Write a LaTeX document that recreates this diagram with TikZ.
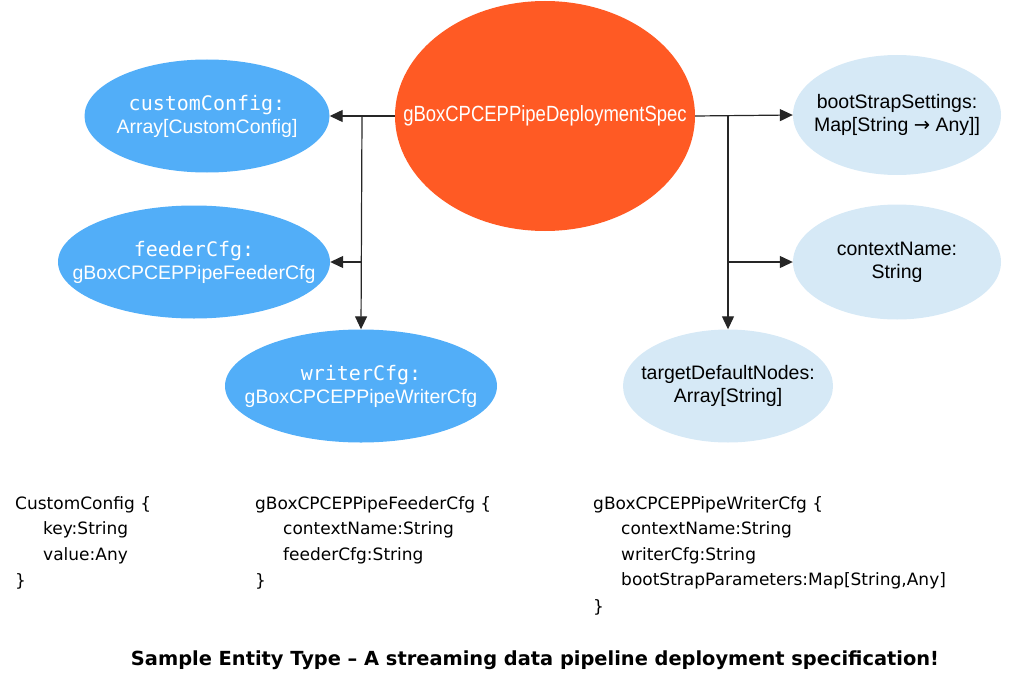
\documentclass[tikz,border=0pt]{standalone}
\usepackage{fontspec}
\setmainfont{Liberation Sans}
\newfontfamily\monof{DejaVu Sans Mono}
\newfontfamily\codef{DejaVu Sans}
\usetikzlibrary{shapes.geometric,arrows.meta}
\definecolor{orng}{HTML}{FF5A24}
\definecolor{blu}{HTML}{52AEF8}
\definecolor{lblu}{HTML}{D6E9F6}
\newcommand{\zb}[1]{\makebox[0pt]{#1}}
\begin{document}
\begin{tikzpicture}[x=1pt,y=-1pt,
  ell/.style={ellipse,inner sep=0pt,align=center,font=\fontsize{19.5}{23}\selectfont},
  dark/.style={ell,fill=blu,text=white},
  light/.style={ell,fill=lblu,text=black},
  con/.style={draw=black!85,line width=1.2pt,-{Triangle[length=13pt,width=12pt]}},
  code/.style={anchor=west,inner sep=0pt,font=\codef\fontsize{17}{20}\selectfont}]
\useasboundingbox (0,0) rectangle (1024,690);
\node[ell,fill=orng,text=white,minimum width=300pt,minimum height=230pt] (spec) at (545,116) {\zb{\fontsize{22}{26}\selectfont\addfontfeature{FakeStretch=0.84}gBoxCPCEPPipeDeploymentSpec}};
\node[dark,minimum width=245pt,minimum height=113pt] (cc) at (207,116) {\zb{\monof\fontsize{20}{24}\selectfont customConfig:}\\\zb{Array[CustomConfig]}};
\node[dark,minimum width=272pt,minimum height=113pt] (fc) at (194,262) {\zb{\monof\fontsize{20}{24}\selectfont feederCfg:}\\\zb{gBoxCPCEPPipeFeederCfg}};
\node[dark,minimum width=272pt,minimum height=113pt] (wc) at (361,386) {\zb{\monof\fontsize{20}{24}\selectfont writerCfg:}\\\zb{gBoxCPCEPPipeWriterCfg}};
\node[light,minimum width=208pt,minimum height=120pt] (bs) at (897,115) {\zb{bootStrapSettings:}\\\zb{Map[String {\codef→} Any]]}};
\node[light,minimum width=208pt,minimum height=115pt] (cn) at (897,262) {\zb{contextName:}\\\zb{String}};
\node[light,minimum width=210pt,minimum height=113pt] (td) at (728,386) {\zb{targetDefaultNodes:}\\\zb{Array[String]}};
\coordinate (lj) at (362,116);
\coordinate (lb) at (362,262);
\coordinate (rj) at (728,116);
\coordinate (rb) at (728,262);
\draw[con] (spec.west) -- (cc.east);
\draw[con] (lj) -- (wc.north);
\draw[con] (lb) -- (fc.east);
\draw[con] (spec.east) -- (bs.west);
\draw[con] (rj) -- (td.north);
\draw[con] (rb) -- (cn.west);
\node[code] (a1) at (15,505) {CustomConfig \{};
\node[code] (a2) at (43,530) {key:String};
\node[code] (a3) at (43,556) {value:Any};
\node[code] (a4) at (15,581) {\}};
\node[code] (b1) at (255,505) {gBoxCPCEPPipeFeederCfg \{};
\node[code] (b2) at (283,530) {contextName:String};
\node[code] (b3) at (283,556) {feederCfg:String};
\node[code] (b4) at (255,581) {\}};
\node[code] (c1) at (593,505) {gBoxCPCEPPipeWriterCfg \{};
\node[code] (c2) at (621,530) {contextName:String};
\node[code] (c3) at (621,556) {writerCfg:String};
\node[code] (c4) at (621,581) {bootStrapParameters:Map[String,Any]};
\node[code] (c5) at (593,607) {\}};
\node[inner sep=0pt,font=\codef\bfseries\fontsize{19.4}{22}\selectfont] (title) at (535,660) {Sample Entity Type – A streaming data pipeline deployment specification!};
\end{tikzpicture}
\end{document}
